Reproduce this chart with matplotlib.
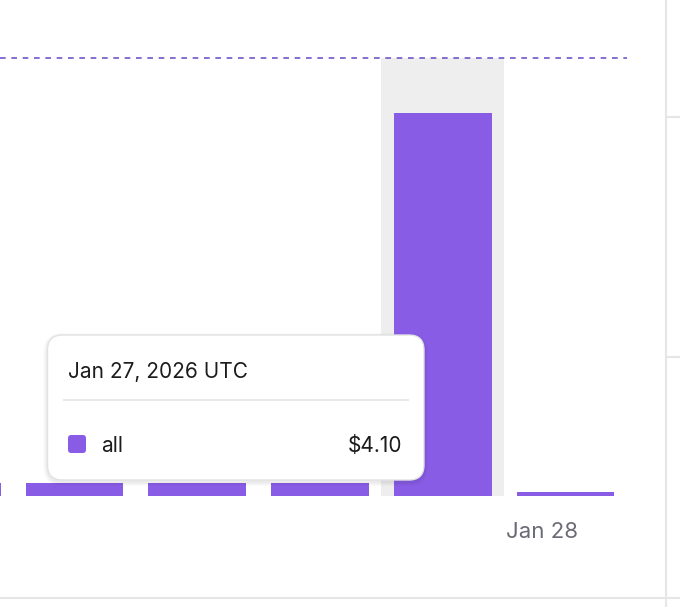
import numpy as np
import matplotlib.pyplot as plt
from matplotlib.patches import FancyBboxPatch

plt.rcParams['font.family'] = ['Inter', 'DejaVu Sans']

# data
days = ['Jan 23', 'Jan 24', 'Jan 25', 'Jan 26', 'Jan 27', 'Jan 28']
spend = [0.14, 0.14, 0.14, 0.14, 4.10, 0.04]
hover = 4            # Jan 27 is hovered
y_top = 4.69         # dashed reference line at top of plot
tick_days = ['Jan 28']

bar_color = '#895ce6'
W, H = 680, 607

fig = plt.figure(figsize=(W / 100, H / 100), dpi=100)
fig.patch.set_facecolor('white')

# main plot area (pixels: x 0..627, y 58..496)
ax = fig.add_axes([0 / W, (H - 496) / H, 627 / W, (496 - 58) / H])
x = np.arange(len(days))
ax.axvspan(hover - 0.5, hover + 0.5, color='#eeeeee', lw=0, zorder=0)
ax.bar(x, spend, width=0.795, color=bar_color, zorder=2)
ax.axhline(y_top, color='#6f55c8', lw=1.2, dashes=(3.4, 3.4), zorder=3, clip_on=False)
ax.set_xlim(0.393, 5.5)
ax.set_ylim(0, y_top)
ticks = [days.index(d) - 0.19 for d in tick_days]
ax.set_xticks(ticks, tick_days)
ax.tick_params(axis='x', length=0, pad=19, labelsize=16, labelcolor='#6b6b75')
ax.set_yticks([])
for s in ax.spines.values():
    s.set_visible(False)
ax.patch.set_alpha(0)

# overlay in pixel coords for the frame lines and tooltip
ov = fig.add_axes([0, 0, 1, 1], zorder=5)
ov.set_xlim(0, W)
ov.set_ylim(H, 0)
ov.axis('off')
ov.patch.set_alpha(0)

line_c = '#e6e6e6'
ov.plot([665.7, 665.7], [0, H], color=line_c, lw=1.5)
ov.plot([0, W], [598.3, 598.3], color=line_c, lw=1.5)
ov.plot([666, W], [117, 117], color=line_c, lw=1.5)
ov.plot([666, W], [357, 357], color=line_c, lw=1.5)

# tooltip
tx, ty, tw, th = 47.5, 335, 376.5, 145
for k in range(1, 5):
    ov.add_patch(FancyBboxPatch((tx - k, ty - k + 2), tw + 2 * k, th + 2 * k,
                                boxstyle='round,pad=0,rounding_size=%d' % (15 + k),
                                fc='black', ec='none', alpha=0.018))
ov.add_patch(FancyBboxPatch((tx, ty), tw, th, boxstyle='round,pad=0,rounding_size=15',
                            fc='white', ec='#e2e2e2', lw=1))
ov.text(68, 378.3, days[hover] + ', 2026 UTC', fontsize=15, color='#1c1c1c', va='baseline')
ov.plot([64, 408], [400, 400], color='#e8e8e8', lw=1.5)
ov.add_patch(FancyBboxPatch((68, 435), 18, 18, boxstyle='round,pad=0,rounding_size=3',
                            fc=bar_color, ec='none'))
ov.text(101.5, 452.3, 'all', fontsize=15, color='#1c1c1c', va='baseline')
ov.text(402.5, 452.3, '$%.2f' % spend[hover], fontsize=15, color='#1c1c1c',
        va='baseline', ha='right')

fig.savefig('out.png', dpi=100)
